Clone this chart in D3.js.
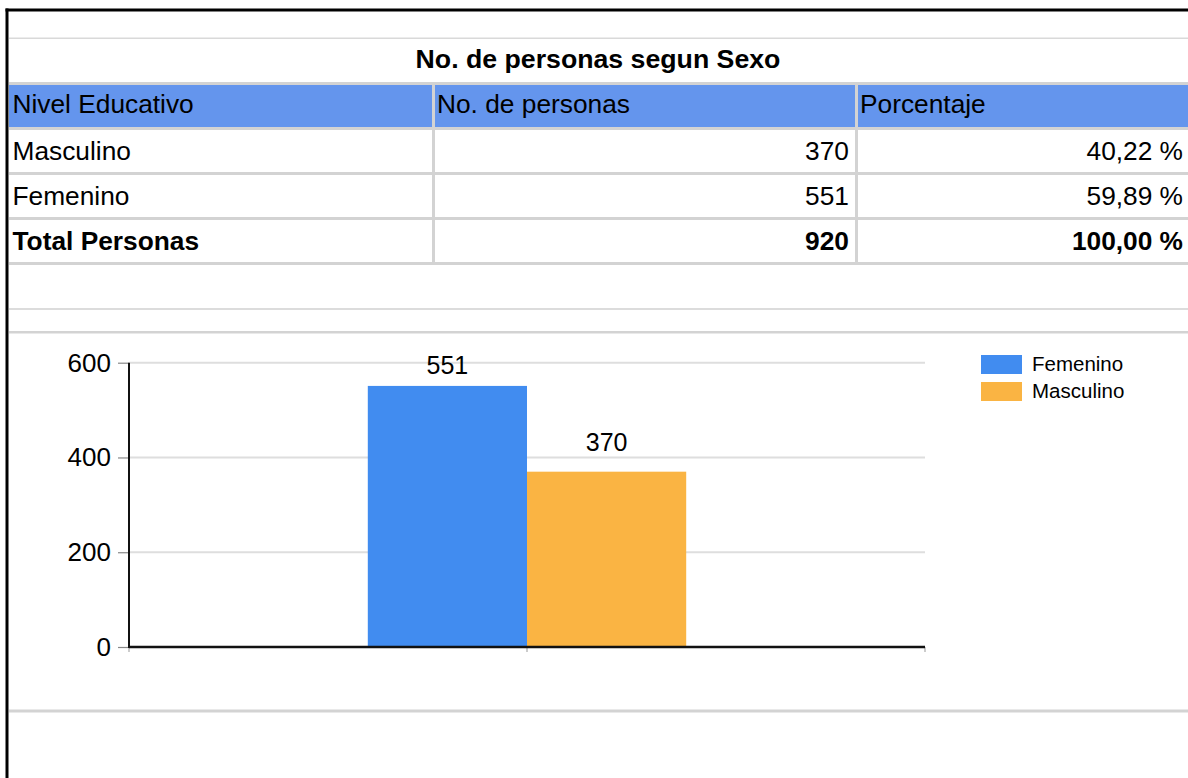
<!DOCTYPE html>
<html>
<head>
<meta charset="utf-8">
<script src="https://cdn.jsdelivr.net/npm/d3@7"></script>
<style>
  body { margin: 0; background: #fff; }
  svg { display: block; font-family: "Liberation Sans", Arial, sans-serif; }
</style>
</head>
<body>
<svg id="report" width="1188" height="778"></svg>
<script>
// table data
const tableTitle = "No. de personas segun Sexo";
const headers = ["Nivel Educativo", "No. de personas", "Porcentaje"];
const rowLabels = ["Masculino", "Femenino", "Total Personas"];
const rowCounts = ["370", "551", "920"];
const rowPercents = ["40,22 %", "59,89 %", "100,00 %"];

// chart data
const seriesNames = ["Femenino", "Masculino"];
const seriesValues = [551, 370];
const seriesColors = ["#418cf0", "#fab443"];
const yTicks = [0, 200, 400, 600];

const svg = d3.select("#report");
const W = 1188, H = 778;

/**
 * table part
 */
const colEdges = [9, 433.5, 856.5, W];
const headerTop = 85, headerH = 42;
const rowTop = 130, rowStep = 45, rowH = 42;
const sepColor = "#d3d3d3";

// light separators
svg.append("rect").attr("x", 9).attr("y", 37.5).attr("width", W).attr("height", 1.5).attr("fill", "#d9d9d9");
svg.append("rect").attr("x", 9).attr("y", 308).attr("width", W).attr("height", 2).attr("fill", "#dcdcdc");
svg.append("rect").attr("x", 9).attr("y", 331).attr("width", W).attr("height", 2.5).attr("fill", sepColor);
svg.append("rect").attr("x", 9).attr("y", 709.5).attr("width", W).attr("height", 3).attr("fill", sepColor);

// title
svg.append("text")
    .attr("x", 598).attr("y", 68)
    .attr("text-anchor", "middle")
    .attr("font-size", 26.7).attr("font-weight", "bold")
    .text(tableTitle);

// header band
svg.append("rect").attr("x", 9).attr("y", headerTop - 3).attr("width", W).attr("height", 3).attr("fill", sepColor);
svg.append("rect").attr("x", 9).attr("y", headerTop).attr("width", W).attr("height", headerH).attr("fill", "#6495ed");

// row lines
const lineYs = [headerTop + headerH].concat(rowLabels.map((d, i) => rowTop + i * rowStep + rowH));
svg.selectAll("rect.rowline")
    .data(lineYs)
    .enter().append("rect")
    .attr("class", "rowline")
    .attr("x", 9).attr("y", d => d).attr("width", W).attr("height", 3)
    .attr("fill", sepColor);

// column separators
svg.selectAll("rect.colsep")
    .data(colEdges.slice(1, 3))
    .enter().append("rect")
    .attr("class", "colsep")
    .attr("x", d => d - 1.5).attr("y", headerTop)
    .attr("width", 3).attr("height", lineYs[lineYs.length - 1] + 3 - headerTop)
    .attr("fill", sepColor);

// header text
svg.selectAll("text.head")
    .data(headers)
    .enter().append("text")
    .attr("class", "head")
    .attr("x", (d, i) => colEdges[i] + 3.5)
    .attr("y", headerTop + 28)
    .attr("font-size", 26.3)
    .text(d => d);

// body rows
const rows = rowLabels.map((label, i) => ({
    label: label, count: rowCounts[i], pct: rowPercents[i], bold: i === rowLabels.length - 1
}));
const rowG = svg.selectAll("g.row")
    .data(rows)
    .enter().append("g")
    .attr("class", "row")
    .attr("transform", (d, i) => "translate(0," + (rowTop + i * rowStep + 30) + ")")
    .attr("font-size", 26.3)
    .attr("font-weight", d => d.bold ? "bold" : "normal");
rowG.append("text").attr("x", colEdges[0] + 3.5).text(d => d.label);
rowG.append("text").attr("x", colEdges[2] - 7.5).attr("text-anchor", "end").text(d => d.count);
rowG.append("text").attr("x", colEdges[3] - 5).attr("text-anchor", "end").text(d => d.pct);

/**
 * chart part
 */
const plot = { left: 129, right: 925, top: 362.7, bottom: 647 };

const yScale = d3.scaleLinear()
    .domain([0, 600])
    .range([plot.bottom, plot.top]);

const x0 = d3.scaleBand()
    .domain([""])
    .range([plot.left, plot.right])
    .paddingInner(0.6)
    .paddingOuter(0.3);

const x1 = d3.scaleBand()
    .domain(seriesNames)
    .range([0, x0.bandwidth()]);

// grid lines
svg.append("g")
    .selectAll("line")
    .data(yTicks.filter(d => d > 0))
    .enter().append("line")
    .attr("x1", plot.left).attr("x2", plot.right)
    .attr("y1", d => yScale(d)).attr("y2", d => yScale(d))
    .attr("stroke", "#dedede").attr("stroke-width", 2);

// y axis
const yAxis = svg.append("g")
    .attr("transform", "translate(" + plot.left + ",0)")
    .call(d3.axisLeft(yScale).tickValues(yTicks).tickSize(11).tickPadding(7));
yAxis.select(".domain").remove();
yAxis.selectAll(".tick line").attr("stroke", "#888").attr("stroke-width", 1.2);
yAxis.selectAll(".tick text")
    .attr("font-size", 26)
    .attr("font-family", "Liberation Sans, Arial, sans-serif")
    .attr("fill", "#000");

// bars
const bars = svg.append("g")
    .attr("transform", "translate(" + x0("") + ",0)");
bars.selectAll("rect")
    .data(seriesNames)
    .enter().append("rect")
    .attr("x", d => x1(d))
    .attr("y", (d, i) => yScale(seriesValues[i]))
    .attr("width", x1.bandwidth())
    .attr("height", (d, i) => yScale(0) - yScale(seriesValues[i]))
    .attr("fill", (d, i) => seriesColors[i]);

// value labels, kept inside the plot top
bars.selectAll("text")
    .data(seriesNames)
    .enter().append("text")
    .attr("x", d => x1(d) + x1.bandwidth() / 2)
    .attr("y", (d, i) => Math.max(yScale(seriesValues[i]) - 21, plot.top + 11))
    .attr("text-anchor", "middle")
    .attr("font-size", 25)
    .text((d, i) => seriesValues[i]);

// x axis ticks
const xTicks = [plot.left, x0("") + x0.bandwidth() / 2, plot.right];
svg.append("g")
    .selectAll("line")
    .data(xTicks)
    .enter().append("line")
    .attr("x1", d => d).attr("x2", d => d)
    .attr("y1", plot.bottom).attr("y2", plot.bottom + 5)
    .attr("stroke", "#999").attr("stroke-width", 1);

// axis lines
svg.append("line")
    .attr("x1", plot.left).attr("x2", plot.right)
    .attr("y1", plot.bottom).attr("y2", plot.bottom)
    .attr("stroke", "#111").attr("stroke-width", 2.5);
svg.append("line")
    .attr("x1", plot.left).attr("x2", plot.left)
    .attr("y1", plot.top).attr("y2", plot.bottom + 1)
    .attr("stroke", "#111").attr("stroke-width", 2);

// legend
const legend = svg.append("g")
    .selectAll("g")
    .data(seriesNames)
    .enter().append("g")
    .attr("transform", (d, i) => "translate(981," + (355 + i * 27) + ")");
legend.append("rect")
    .attr("width", 41).attr("height", 19)
    .attr("fill", (d, i) => seriesColors[i]);
legend.append("text")
    .attr("x", 51).attr("y", 16)
    .attr("font-size", 20.5)
    .text(d => d);

// outer frame
svg.append("line").attr("x1", 5.5).attr("x2", W).attr("y1", 10).attr("y2", 10)
    .attr("stroke", "#000").attr("stroke-width", 3);
svg.append("line").attr("x1", 7).attr("x2", 7).attr("y1", 8.5).attr("y2", H)
    .attr("stroke", "#000").attr("stroke-width", 3);
</script>
</body>
</html>
